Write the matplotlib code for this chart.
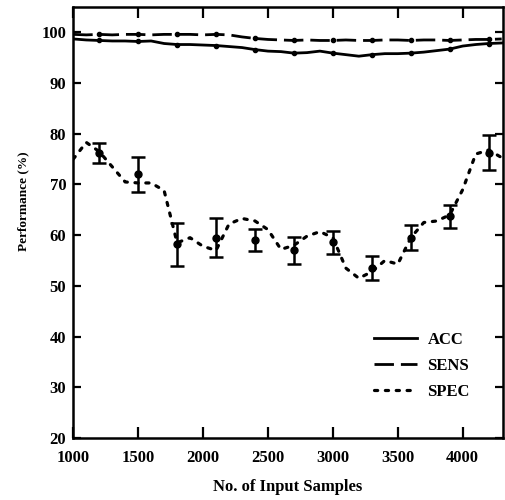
import numpy as np
import matplotlib
matplotlib.use("Agg")
import matplotlib.pyplot as plt

# Input sample counts for the continuous curves (every 100 samples)
samples = list(range(1000, 4400, 100))

acc = [98.7, 98.5, 98.4, 98.3, 98.3, 98.2, 98.3, 97.8, 97.6, 97.6, 97.5, 97.4,
       97.2, 97.0, 96.6, 96.3, 96.2, 95.9, 96.0, 96.3, 95.9, 95.6, 95.3, 95.6,
       95.8, 95.8, 95.9, 96.1, 96.4, 96.7, 97.3, 97.6, 97.8, 97.9]

sens = [99.6, 99.5, 99.6, 99.5, 99.6, 99.6, 99.5, 99.6, 99.6, 99.6, 99.5, 99.6,
        99.5, 99.1, 98.8, 98.6, 98.5, 98.4, 98.5, 98.4, 98.4, 98.5, 98.4, 98.4,
        98.5, 98.5, 98.4, 98.5, 98.5, 98.4, 98.5, 98.6, 98.6, 98.7]

spec = [75.0, 78.3, 76.5, 73.5, 70.5, 70.3, 70.3, 68.8, 58.5, 59.5, 57.8, 57.0,
        62.2, 63.3, 62.8, 61.1, 57.2, 58.0, 59.8, 60.7, 59.5, 53.5, 51.5, 52.8,
        55.0, 54.3, 59.5, 62.5, 62.8, 64.0, 69.0, 76.0, 76.8, 75.3]

# Averaged SPEC results with spread
bar_samples = [1200, 1500, 1800, 2100, 2400, 2700, 3000, 3300, 3600, 3900, 4200]
spec_mean = [76.2, 72.0, 58.2, 59.5, 59.0, 57.0, 58.6, 53.5, 59.5, 63.7, 76.3]
spec_err = [2.0, 3.5, 4.2, 3.8, 2.2, 2.7, 2.3, 2.4, 2.5, 2.3, 3.4]

x_ticks = [1000, 1500, 2000, 2500, 3000, 3500, 4000]
y_ticks = [20, 30, 40, 50, 60, 70, 80, 90, 100]

plt.rcParams["font.family"] = ["Liberation Serif", "DejaVu Serif"]
plt.rcParams["font.weight"] = "bold"

fig = plt.figure(figsize=(5.05, 5.0), dpi=100)
ax = fig.add_axes([0.145, 0.124, 0.851, 0.862])

lw_curve = 2.0
ax.plot(samples, acc, color="black", lw=lw_curve, ls="-", label="ACC")
ax.plot(samples, sens, color="black", lw=lw_curve, ls=(0, (7, 2.5)), label="SENS")
ax.plot(samples, spec, color="black", lw=2.3, ls=(0, (1.0, 2.4)),
        dash_capstyle="round", label="SPEC")

# small point markers on ACC and SENS at the averaged sample counts
idx = [samples.index(s) for s in bar_samples]
ax.plot(bar_samples, [acc[i] for i in idx], ls="none", marker="o", ms=3.0,
        color="black")
ax.plot(bar_samples, [sens[i] for i in idx], ls="none", marker="o", ms=3.0,
        color="black")

ax.errorbar(bar_samples, spec_mean, yerr=spec_err, fmt="o", ms=5,
            color="black", ecolor="black", elinewidth=1.8, capsize=5,
            capthick=1.8)

ax.set_xlim(1000, 4310)
ax.set_ylim(20, 105)
ax.set_xticks(x_ticks)
ax.set_yticks(y_ticks)

for s in ax.spines.values():
    s.set_linewidth(1.8)

ax.tick_params(axis="both", which="major", direction="in", top=True,
               right=True, width=1.6, labelsize=12)
ax.tick_params(axis="x", length=8, pad=9)
ax.tick_params(axis="y", length=6, pad=5)
for lab in ax.get_xticklabels() + ax.get_yticklabels():
    lab.set_fontweight("bold")

ax.set_xlabel("No. of Input Samples", fontsize=12, fontweight="bold",
              labelpad=9)
ax.set_ylabel("Performance (%)", fontsize=9.5, fontweight="bold", labelpad=12)
ax.yaxis.set_label_coords(-0.102, 0.55)

leg = ax.legend(loc="center left", bbox_to_anchor=(0.665, 0.168), frameon=False,
                handlelength=2.6, handletextpad=0.6, labelspacing=0.6,
                prop={"size": 12, "weight": "bold"})

fig.savefig("out.png", dpi=100)
